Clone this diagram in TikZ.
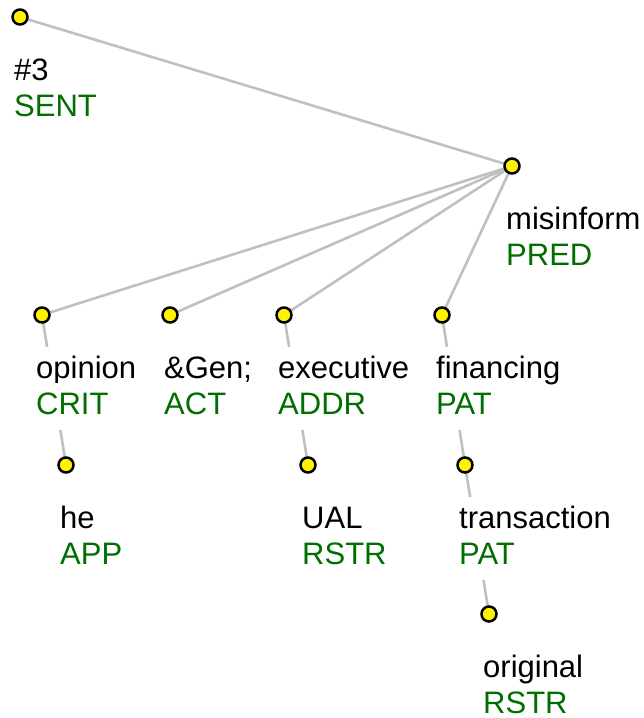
\documentclass[tikz,border=0pt]{standalone}
\usepackage{fontspec}
\setmainfont{Liberation Sans}
\begin{document}
\pgfdeclarelayer{edges}
\pgfsetlayers{edges,main}
\definecolor{funcgreen}{RGB}{0,110,0}
\definecolor{edgegray}{RGB}{192,192,192}
\begin{tikzpicture}[x=1pt,y=-1pt,
  tnode/.style={circle,draw=black,fill=yellow,line width=2.5pt,minimum size=15pt,inner sep=0pt},
  lemma/.style={anchor=base west,fill=white,inner sep=2pt,text height=29pt,text depth=8pt,
    font=\fontsize{31}{37}\selectfont},
  functor/.style={lemma,text=funcgreen,text depth=14pt},
  tedge/.style={draw=edgegray,line width=2.6pt}]
\useasboundingbox (0,0) rectangle (644,718);

% tree nodes
\node[tnode] (n0) at (20,17) {};
\node[tnode] (n1) at (512,166) {};
\node[tnode] (n2) at (42,315) {};
\node[tnode] (n3) at (170,315) {};
\node[tnode] (n4) at (284,315) {};
\node[tnode] (n5) at (442,315) {};
\node[tnode] (n6) at (66,465) {};
\node[tnode] (n7) at (308,465) {};
\node[tnode] (n8) at (465,465) {};
\node[tnode] (n9) at (489,614) {};

% labels: lemma over functor
\newcommand{\tlabel}[4]{%
  \node[lemma] (#1l) at ([xshift=-8pt,yshift=-63pt]#1.center) {#2};
  \node[functor,#4] (#1f) at ([xshift=-8pt,yshift=-99pt]#1.center) {#3};}
\tlabel{n0}{\#3}{SENT}{}
\tlabel{n1}{misinform}{PRED}{}
\tlabel{n2}{opinion}{CRIT}{}
\tlabel{n3}{\&Gen;}{ACT}{}
\tlabel{n4}{executive}{ADDR}{}
\tlabel{n5}{financing}{PAT}{}
\tlabel{n6}{he}{APP}{}
\tlabel{n7}{UAL}{RSTR}{}
\tlabel{n8}{transaction}{PAT}{}
\tlabel{n9}{original}{RSTR}{text depth=0pt,inner ysep=0pt}

% edges
\begin{pgfonlayer}{edges}
\draw[tedge] (n0.center) -- (n1.center);
\draw[tedge] (n1.center) -- (n2.center);
\draw[tedge] (n1.center) -- (n3.center);
\draw[tedge] (n1.center) -- (n4.center);
\draw[tedge] (n1.center) -- (n5.center);
\draw[tedge] (n2.center) -- (n6.center);
\draw[tedge] (n4.center) -- (n7.center);
\draw[tedge] (n5.center) -- (n8.center);
\draw[tedge] (n8.center) -- (n9.center);
\end{pgfonlayer}
\end{tikzpicture}
\end{document}
